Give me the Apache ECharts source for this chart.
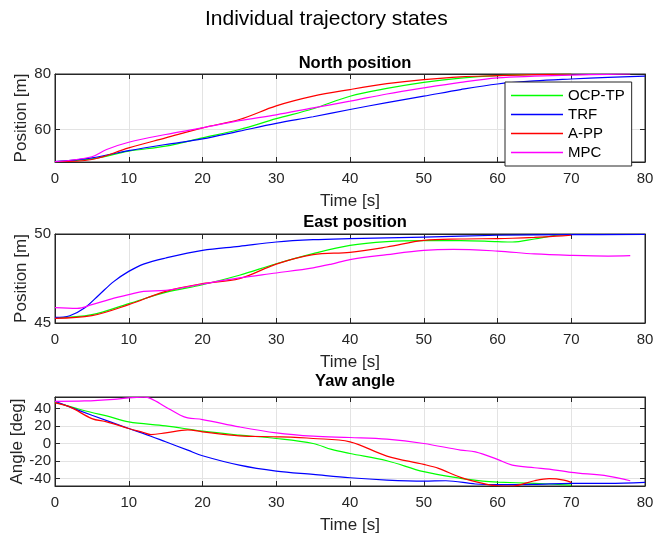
<!DOCTYPE html>
<html>
<head>
<meta charset="utf-8">
<script src="https://cdn.jsdelivr.net/npm/echarts@6/dist/echarts.min.js"></script>
<style>
  html, body { margin: 0; padding: 0; background: #fff; }
  #chart { width: 655px; height: 535px; }
</style>
</head>
<body>
<div id="chart"></div>
<script>
// ---- data ----
const seriesNames = ['OCP-TP', 'TRF', 'A-PP', 'MPC'];
const colors = ['#00ff00', '#0000ff', '#ff0000', '#ff00ff'];

// North position [m]
const northT70 = [0, 5, 10, 15, 20, 25, 30, 35, 40, 45, 50, 55, 60, 65, 70];
const northT80 = [0, 5, 10, 15, 20, 25, 30, 35, 40, 45, 50, 55, 60, 65, 70, 75, 80];
const northT78 = [0, 5, 7, 10, 15, 20, 25, 30, 35, 40, 45, 50, 55, 60, 65, 70, 75, 78];
const northOcp = [48.4, 49.4, 52.2, 54, 57, 60, 63.9, 67.5, 72, 74.8, 77, 78.5, 79.4, 79.8, 80];
const northTrf = [48.4, 49.8, 52.4, 54.6, 56.6, 59.4, 62.2, 64.6, 67.2, 69.7, 72, 74.4, 76.4, 77.5, 78.2, 78.8, 79.2];
const northApp = [48.4, 49.2, 53.4, 57, 60.6, 63.6, 68.5, 72, 74.4, 76.5, 78, 79, 79.4, 79.8, 80];
const northMpc = [48.4, 50.2, 52.8, 55.4, 58.2, 60.6, 63.2, 65.3, 67.8, 70.2, 72.8, 75, 77, 78.6, 79.2, 79.6, 79.9, 80];

// East position [m]
const eastTrfT = [0, 2, 4, 6, 8, 10, 12, 15, 20, 25, 30, 35, 40, 50, 60, 70, 80];
const eastTrf = [45.32, 45.41, 45.84, 46.59, 47.34, 47.9, 48.31, 48.65, 49.08, 49.31, 49.55, 49.68, 49.74, 49.83, 49.93, 49.96, 49.98];
const eastMpcT = [0, 3, 5, 8, 10, 12, 15, 20, 25, 30, 35, 37.5, 40, 45, 50, 54, 60, 65, 70, 75, 78];
const eastMpc = [45.86, 45.82, 46.03, 46.4, 46.59, 46.78, 46.83, 47.19, 47.53, 47.81, 48.1, 48.31, 48.56, 48.84, 49.08, 49.14, 49.04, 48.88, 48.8, 48.76, 48.78];
const eastT70 = [0, 5, 10, 15, 20, 25, 30, 35, 40, 45, 50, 55, 60, 62, 65, 68, 70];
const eastOcp = [45.28, 45.47, 46.09, 46.72, 47.15, 47.68, 48.33, 48.9, 49.36, 49.57, 49.63, 49.63, 49.57, 49.55, 49.72, 49.93, 49.98];
const eastApp = [45.26, 45.41, 46.03, 46.78, 47.21, 47.49, 48.31, 48.84, 48.97, 49.27, 49.64, 49.72, 49.74, 49.76, 49.81, 49.88, 49.93];

// Yaw angle [deg]
const yawOcpT = [0, 3, 5, 7, 10, 15, 20, 25, 30, 35, 37.5, 40, 45, 50, 55, 58, 60, 65, 70];
const yawOcp = [47.2, 40, 35.5, 31.7, 24.8, 20.3, 14.2, 9.7, 5.9, 0.2, -6.6, -11.2, -19.5, -32, -39.6, -42.7, -43.8, -45.3, -47.2];
const yawTrfT = [0, 5, 10, 13, 15, 18, 20, 25, 30, 35, 40, 45, 50, 53, 57, 60, 65, 70, 75, 80];
const yawTrf = [48.3, 32.4, 17.3, 8.5, 2.1, -7.4, -13.8, -24.5, -31.3, -35.1, -38.9, -41.5, -42.7, -42.3, -46, -46.8, -46.4, -45.3, -45.3, -44.2];
const yawAppT = [0, 2, 5, 7, 10, 12, 13, 15, 18, 20, 25, 30, 35, 40, 45, 50, 52, 55, 58, 60, 62, 65, 67, 69, 70];
const yawApp = [46.4, 41.9, 28.6, 24.8, 17.3, 12.7, 10.4, 12.3, 15.7, 13.5, 8.9, 7.8, 5.9, 2.1, -14.2, -23.7, -28.2, -38.5, -45.3, -48, -48.3, -42.3, -40, -41.5, -44.2];
const yawMpcT = [0, 4, 8, 10, 12, 13, 15, 17, 18, 20, 25, 30, 35, 40, 45, 50, 55, 57, 60, 62, 65, 67, 70, 75, 78];
const yawMpc = [48.3, 48.7, 50.6, 52.3, 53, 51.4, 41.9, 32.4, 29.4, 27.5, 19.1, 12.3, 8.5, 7.0, 5.1, 0.2, -7.4, -9.3, -18, -24.5, -27.5, -29, -32.8, -37, -42.3];

// ---- helpers ----
const zip = (t, v) => t.map((x, i) => [x, v[i]]);
const FONT = 'Liberation Sans, Arial, sans-serif';
const AX = '#262626';

const grids = [
  { left: 55, top: 74, width: 590, height: 88 },
  { left: 55, top: 234, width: 590, height: 89 },
  { left: 55, top: 397, width: 590, height: 89 }
];

const yRanges = [
  { min: 48.3, max: 80, ticks: [60, 80], name: 'Position [m]', gap: 25 },
  { min: 45, max: 50, ticks: [45, 50], name: 'Position [m]', gap: 25 },
  { min: -48.3, max: 53.2, ticks: [-40, -20, 0, 20, 40], name: 'Angle [deg]', gap: 29 }
];

const xAxes = [];
const yAxes = [];
grids.forEach((g, i) => {
  xAxes.push({
    type: 'value', gridIndex: i, min: 0, max: 80, interval: 10,
    name: 'Time [s]', nameLocation: 'middle', nameGap: 31, nameMoveOverlap: false,
    nameTextStyle: { fontFamily: FONT, fontSize: 17, color: AX },
    axisLine: { show: true, onZero: false, lineStyle: { color: AX } },
    axisTick: { inside: true, length: 5, lineStyle: { color: AX } },
    axisLabel: { fontFamily: FONT, fontSize: 15, color: AX, margin: 9 },
    splitLine: { show: true, lineStyle: { color: '#e3e3e3' } }
  });
});
grids.forEach((g, i) => {
  xAxes.push({
    type: 'value', gridIndex: i, position: 'top', min: 0, max: 80, interval: 10,
    axisLine: { show: true, onZero: false, lineStyle: { color: AX } },
    axisTick: { inside: true, length: 5, lineStyle: { color: AX } },
    axisLabel: { show: false }, splitLine: { show: false }
  });
});
yRanges.forEach((r, i) => {
  yAxes.push({
    type: 'value', gridIndex: i, min: r.min, max: r.max,
    name: r.name, nameLocation: 'middle', nameGap: r.gap, nameMoveOverlap: false,
    nameTextStyle: { fontFamily: FONT, fontSize: 17, color: AX },
    axisLine: { show: true, onZero: false, lineStyle: { color: AX } },
    axisTick: { inside: true, length: 5, customValues: r.ticks, lineStyle: { color: AX } },
    axisLabel: { fontFamily: FONT, fontSize: 15, color: AX, margin: 4, customValues: r.ticks },
    splitLine: { show: true, lineStyle: { color: '#e3e3e3' } }
  });
});
yRanges.forEach((r, i) => {
  yAxes.push({
    type: 'value', gridIndex: i, position: 'right', min: r.min, max: r.max,
    axisLine: { show: true, onZero: false, lineStyle: { color: AX } },
    axisTick: { inside: true, length: 5, customValues: r.ticks, lineStyle: { color: AX } },
    axisLabel: { show: false, customValues: r.ticks }, splitLine: { show: false }
  });
});

function line(name, color, idx, data) {
  return {
    name: name, type: 'line', xAxisIndex: idx, yAxisIndex: idx,
    data: data, smooth: 0.35, symbol: 'none',
    lineStyle: { color: color, width: 1.2 }, itemStyle: { color: color },
    z: 3
  };
}

const series = [
  line('OCP-TP', colors[0], 0, zip(northT70, northOcp)),
  line('TRF', colors[1], 0, zip(northT80, northTrf)),
  line('A-PP', colors[2], 0, zip(northT70, northApp)),
  line('MPC', colors[3], 0, zip(northT78, northMpc)),
  line('OCP-TP', colors[0], 1, zip(eastT70, eastOcp)),
  line('TRF', colors[1], 1, zip(eastTrfT, eastTrf)),
  line('A-PP', colors[2], 1, zip(eastT70, eastApp)),
  line('MPC', colors[3], 1, zip(eastMpcT, eastMpc)),
  line('OCP-TP', colors[0], 2, zip(yawOcpT, yawOcp)),
  line('TRF', colors[1], 2, zip(yawTrfT, yawTrf)),
  line('A-PP', colors[2], 2, zip(yawAppT, yawApp)),
  line('MPC', colors[3], 2, zip(yawMpcT, yawMpc))
];

const chart = echarts.init(document.getElementById('chart'));
chart.setOption({
  animation: false,
  backgroundColor: '#fff',
  title: [
    { text: 'Individual trajectory states', left: 200, top: 4,
      textStyle: { fontFamily: FONT, fontSize: 21, fontWeight: 'normal', color: '#000' } },
    { text: 'North position', left: 350, textAlign: 'center', top: 50,
      textStyle: { fontFamily: FONT, fontSize: 16.5, fontWeight: 'bold', color: '#000' } },
    { text: 'East position', left: 350, textAlign: 'center', top: 209,
      textStyle: { fontFamily: FONT, fontSize: 16.5, fontWeight: 'bold', color: '#000' } },
    { text: 'Yaw angle', left: 350, textAlign: 'center', top: 368,
      textStyle: { fontFamily: FONT, fontSize: 16.5, fontWeight: 'bold', color: '#000' } }
  ],
  legend: {
    data: seriesNames, orient: 'vertical', left: 505, top: 82,
    itemWidth: 52, itemHeight: 1.5, icon: 'rect', itemGap: 4,
    padding: [6, 7, 6, 6],
    backgroundColor: '#fff', borderColor: AX, borderWidth: 1,
    textStyle: { fontFamily: FONT, fontSize: 15, color: '#000' }
  },
  grid: grids.map(g => Object.assign({ show: true, borderColor: AX, borderWidth: 1, outerBoundsMode: 'none' }, g)),
  xAxis: xAxes,
  yAxis: yAxes,
  series: series
});
</script>
</body>
</html>
